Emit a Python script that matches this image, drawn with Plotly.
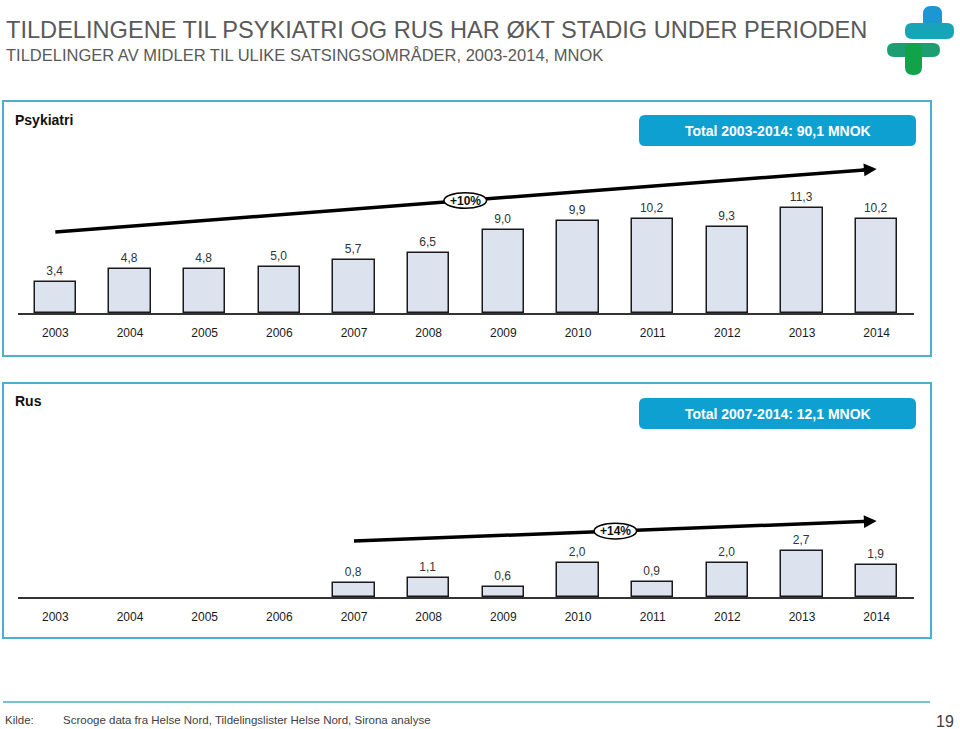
import plotly.graph_objects as go

# ---------------- data ----------------
years = [2003, 2004, 2005, 2006, 2007, 2008, 2009, 2010, 2011, 2012, 2013, 2014]
year_labels = [str(y) for y in years]

psyk_years = years
psyk_values = [3.4, 4.8, 4.8, 5.0, 5.7, 6.5, 9.0, 9.9, 10.2, 9.3, 11.3, 10.2]

rus_years = [2007, 2008, 2009, 2010, 2011, 2012, 2013, 2014]
rus_values = [0.8, 1.1, 0.6, 2.0, 0.9, 2.0, 2.7, 1.9]

# trend arrows (start/end in data units) and growth labels
psyk_trend_x = [2003, 2014]
psyk_trend_y = [8.76, 15.57]
psyk_growth = "+10%"
rus_trend_x = [2007, 2014]
rus_trend_y = [3.29, 4.47]
rus_growth = "+14%"

psyk_total = "Total 2003-2014: 90,1 MNOK"
rus_total = "Total 2007-2014: 12,1 MNOK"

title = "TILDELINGENE TIL PSYKIATRI OG RUS HAR ØKT STADIG UNDER PERIODEN"
subtitle = "TILDELINGER AV MIDLER TIL ULIKE SATSINGSOMRÅDER, 2003-2014, MNOK"
source_label = "Kilde:"
source_text = "Scrooge data fra Helse Nord, Tildelingslister Helse Nord, Sirona analyse"
page_no = "19"

# ---------------- helpers ----------------
W, H = 960, 729
FONT = "Liberation Sans, Arial, sans-serif"


def X(px):
    return px / W


def Y(py):
    return 1 - py / H


def fmt(v):
    return f"{v:.1f}".replace(".", ",")


def rrect(x0, y0, x1, y1, r):
    # rounded rectangle path in paper coords from pixel coords
    rx, ry = r / W, r / H
    a, b, c, d = X(x0), X(x1), Y(y1), Y(y0)  # left, right, bottom, top
    return (f"M {a+rx},{d} L {b-rx},{d} Q {b},{d} {b},{d-ry} "
            f"L {b},{c+ry} Q {b},{c} {b-rx},{c} L {a+rx},{c} "
            f"Q {a},{c} {a},{c+ry} L {a},{d-ry} Q {a},{d} {a+rx},{d} Z")


def ptext(px, py, text, size, color, xanchor="left", bold=False):
    fig.add_annotation(x=X(px), y=Y(py), xref="paper", yref="paper",
                       text=f"<b>{text}</b>" if bold else text, showarrow=False,
                       xanchor=xanchor, yanchor="middle",
                       font=dict(size=size, color=color, family=FONT))


bar_fill = "#DCE3EE"
bar_line = "#1a1a1a"
panel_col = "#4BB0CD"
total_col = "#0FA0D2"

fig = go.Figure()

fig.add_trace(go.Bar(
    x=psyk_years, y=psyk_values, width=0.55,
    marker=dict(color=bar_fill, line=dict(color=bar_line, width=1.5)),
    text=[fmt(v) for v in psyk_values], textposition="outside",
    textfont=dict(size=12, color="#333333", family=FONT),
    cliponaxis=False, xaxis="x", yaxis="y", showlegend=False, hoverinfo="skip"))

fig.add_trace(go.Bar(
    x=rus_years, y=rus_values, width=0.55,
    marker=dict(color=bar_fill, line=dict(color=bar_line, width=1.5)),
    text=[fmt(v) for v in rus_values], textposition="outside",
    textfont=dict(size=12, color="#333333", family=FONT),
    cliponaxis=False, xaxis="x2", yaxis="y2", showlegend=False, hoverinfo="skip"))


def trend(tx, ty, xa, ya):
    # line slightly shortened; arrowhead annotation finishes at the end point
    frac = 0.985
    ex = tx[0] + (tx[1] - tx[0]) * frac
    ey = ty[0] + (ty[1] - ty[0]) * frac
    fig.add_trace(go.Scatter(x=[tx[0], ex], y=[ty[0], ey], mode="lines",
                             line=dict(color="black", width=3.5),
                             xaxis=xa, yaxis=ya, showlegend=False, hoverinfo="skip",
                             cliponaxis=False))
    slope = (ty[1] - ty[0]) / (tx[1] - tx[0])
    fig.add_annotation(x=tx[1], y=ty[1], ax=ex - 0.05, ay=ey - slope * 0.05,
                       xref=xa, yref=ya, axref=xa, ayref=ya, text="", showarrow=True,
                       arrowhead=2, arrowsize=0.85, arrowwidth=3, arrowcolor="black")


trend(psyk_trend_x, psyk_trend_y, "x", "y")
trend(rus_trend_x, rus_trend_y, "x2", "y2")


def growth(tx, ty, cx, label, xa, ya, hy):
    cy = ty[0] + (ty[1] - ty[0]) * (cx - tx[0]) / (tx[1] - tx[0])
    hw = 0.285
    fig.add_shape(type="circle", xref=xa, yref=ya, x0=cx - hw, x1=cx + hw,
                  y0=cy - hy, y1=cy + hy, fillcolor="white",
                  line=dict(color="black", width=1.5), layer="above")
    fig.add_annotation(x=cx, y=cy, xref=xa, yref=ya, text=f"<b>{label}</b>", showarrow=False,
                       xanchor="center", yanchor="middle",
                       font=dict(size=12, color="#111111", family=FONT))


growth(psyk_trend_x, psyk_trend_y, 2008.49, psyk_growth, "x", "y", 0.84)
growth(rus_trend_x, rus_trend_y, 2010.50, rus_growth, "x2", "y2", 0.46)

xcommon = dict(range=[2002.5, 2014.5], domain=[X(18), X(914)], tickvals=years, ticktext=year_labels,
               showline=True, linecolor="#333333", linewidth=1.5, ticks="", showgrid=False,
               zeroline=False, tickfont=dict(size=12, color="#1a1a1a", family=FONT),
               ticklabelstandoff=8, fixedrange=True)

fig.update_layout(
    width=W, height=H, autosize=False,
    margin=dict(l=0, r=0, t=0, b=0),
    paper_bgcolor="white", plot_bgcolor="rgba(0,0,0,0)",
    bargap=0,
    xaxis=dict(**xcommon, anchor="y"),
    yaxis=dict(range=[0, 17.62], domain=[Y(313), Y(150)], visible=False, fixedrange=True),
    xaxis2=dict(**xcommon, anchor="y2"),
    yaxis2=dict(range=[0, 8.65], domain=[Y(597), Y(450)], visible=False, fixedrange=True),
    font=dict(family=FONT),
)

# panel frames
fig.add_shape(type="rect", xref="paper", yref="paper", x0=X(3), x1=X(931), y0=Y(356), y1=Y(101),
              line=dict(color=panel_col, width=2), layer="below")
fig.add_shape(type="rect", xref="paper", yref="paper", x0=X(3), x1=X(931), y0=Y(638), y1=Y(383),
              line=dict(color=panel_col, width=2), layer="below")

# total boxes
fig.add_shape(type="path", xref="paper", yref="paper", path=rrect(639, 115, 916, 146, 6),
              fillcolor=total_col, line=dict(width=0), layer="below")
fig.add_shape(type="path", xref="paper", yref="paper", path=rrect(639, 398, 916, 429, 6),
              fillcolor=total_col, line=dict(width=0), layer="below")
ptext(778, 131, psyk_total, 14, "white", "center", bold=True)
ptext(778, 414, rus_total, 14, "white", "center", bold=True)

# panel labels
ptext(13, 120, "Psykiatri", 14, "#111111", bold=True)
ptext(13, 401, "Rus", 14, "#111111", bold=True)

# titles
ptext(4, 30, title, 23.6, "#595959")
ptext(4, 55, subtitle, 16.5, "#595959")

# footer
fig.add_shape(type="line", xref="paper", yref="paper", x0=X(3), x1=X(930), y0=Y(702), y1=Y(702),
              line=dict(color="#4BACC6", width=1.5))
ptext(3, 720, source_label, 11.5, "#404040")
ptext(61, 720, source_text, 11.5, "#404040")
ptext(956, 721, page_no, 16, "#404040", "right")

# logo (two overlapping crosses)
logo_parts = [
    (923, 6, 942, 39, 8, "#1D96D4"),
    (905, 23, 954, 39, 7, "#17A3B8"),
    (887, 43, 940, 57, 7, "#1C9E72"),
    (905, 43, 922, 75, 8, "#12A24A"),
]
for x0, y0, x1, y1, r, c in logo_parts:
    fig.add_shape(type="path", xref="paper", yref="paper", path=rrect(x0, y0, x1, y1, r),
                  fillcolor=c, line=dict(width=0), layer="above")

fig.write_html("out.html", config={"displayModeBar": False},
               post_script="document.body.style.margin='0';document.body.style.overflow='hidden';")
